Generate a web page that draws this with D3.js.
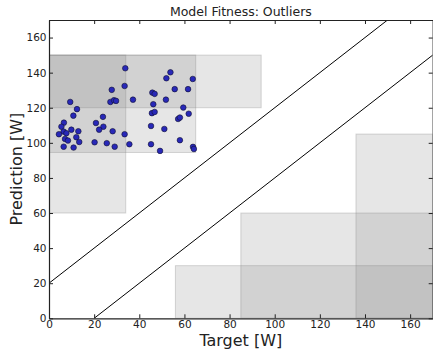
<!DOCTYPE html>
<html lang="en">
<head>
<meta charset="UTF-8" />
<script src="https://d3js.org/d3.v7.min.js"></script>
<style>
    body { margin: 0; background: #fff; }
    text { font-family: "DejaVu Sans", sans-serif; }
</style>
</head>
<body>
<svg id="chart" width="433" height="353"></svg>
<script>
    // outlier points (target, prediction)
    const targets = [33.8, 33.5, 27.8, 27.2, 28.8, 29.7, 9.4, 12.4, 10.8, 23.9, 6.6, 5.5, 20.8, 24.1, 22.2,
        9.9, 13.0, 6.5, 7.7, 4.4, 28.2, 33.5, 12.1, 7.1, 8.4, 13.4, 20.2, 25.6, 6.5, 10.9, 29.1,
        53.8, 52.0, 63.7, 55.7, 61.6, 37.2, 45.8, 46.8, 51.8, 46.2, 59.5, 45.6, 46.8, 61.9, 57.2, 58.0,
        45.2, 51.1, 35.6, 45.2, 58.0, 49.2, 63.8, 64.2];
    const predictions = [142.5, 132.4, 130.2, 123.3, 124.3, 123.9, 123.3, 119.2, 115.5, 114.8, 111.5, 109.2, 111.3, 109.2, 107.5,
        107.5, 106.6, 106.4, 105.5, 104.9, 106.6, 104.9, 103.2, 102.2, 101.3, 100.5, 100.3, 99.8, 97.8, 97.3, 97.8,
        140.2, 136.8, 136.4, 130.6, 130.6, 124.6, 128.6, 127.9, 124.6, 122.0, 120.1, 116.9, 117.6, 116.6, 113.6, 114.4,
        109.6, 107.9, 99.2, 99.2, 101.5, 95.4, 97.7, 96.5];

    // shaded outlier regions [x0, x1, y0, y1]
    const regionX0 = [0, 0, 0, 56, 85, 136];
    const regionX1 = [34, 65, 94, 170, 170, 170];
    const regionY0 = [60, 94.5, 120, 0, 0, 0];
    const regionY1 = [150, 150, 150, 30, 60, 105];

    // tolerance band lines: prediction = target +/- 20
    const bandOffsets = [20, -20];
    const ticks = [0, 20, 40, 60, 80, 100, 120, 140, 160];

    const svg = d3.select("#chart");
    const margin = { left: 49, right: 0.3, top: 20, bottom: 34.7 };
    const width = 433 - margin.left - margin.right;
    const height = 353 - margin.top - margin.bottom;

    const x = d3.scaleLinear().domain([0, 170]).range([0, width]);
    const y = d3.scaleLinear().domain([0, 170]).range([height, 0]);

    const g = svg.append("g").attr("transform", `translate(${margin.left},${margin.top})`);

    svg.append("defs").append("clipPath").attr("id", "clip")
        .append("rect").attr("width", width).attr("height", height);

    const plot = g.append("g").attr("clip-path", "url(#clip)");

    plot.selectAll("rect.region")
        .data(regionX0.map((d, i) => ({ x0: d, x1: regionX1[i], y0: regionY0[i], y1: regionY1[i] })))
        .join("rect")
        .attr("class", "region")
        .attr("x", d => x(d.x0))
        .attr("y", d => y(d.y1))
        .attr("width", d => x(d.x1) - x(d.x0))
        .attr("height", d => y(d.y0) - y(d.y1))
        .attr("fill", "#808080")
        .attr("fill-opacity", 0.2)
        .attr("stroke", "#808080")
        .attr("stroke-opacity", 0.3);

    plot.selectAll("line.band")
        .data(bandOffsets)
        .join("line")
        .attr("class", "band")
        .attr("x1", d => x(Math.max(0, -d)))
        .attr("y1", d => y(Math.max(0, d)))
        .attr("x2", d => x(170))
        .attr("y2", d => y(170 + d))
        .attr("stroke", "#000")
        .attr("stroke-width", 1);

    plot.selectAll("circle")
        .data(targets.map((d, i) => [d, predictions[i]]))
        .join("circle")
        .attr("cx", d => x(d[0]))
        .attr("cy", d => y(d[1]))
        .attr("r", 2.8)
        .attr("fill", "#2828b8")
        .attr("stroke", "#101030")
        .attr("stroke-width", 0.6);

    // axes with inward ticks on all sides
    const tickFmt = d3.format("d");
    const xAxis = g.append("g").attr("transform", `translate(0,${height})`)
        .call(d3.axisBottom(x).tickValues(ticks).tickSizeInner(-4).tickSizeOuter(0).tickPadding(2).tickFormat(tickFmt));
    const yAxis = g.append("g")
        .call(d3.axisLeft(y).tickValues(ticks).tickSizeInner(-4).tickSizeOuter(0).tickPadding(2.5).tickFormat(tickFmt));
    const xTop = g.append("g")
        .call(d3.axisTop(x).tickValues(ticks).tickSizeInner(-4).tickSizeOuter(0).tickFormat(""));
    const yRight = g.append("g").attr("transform", `translate(${width},0)`)
        .call(d3.axisRight(y).tickValues(ticks).tickSizeInner(-4).tickSizeOuter(0).tickFormat(""));

    [xAxis, yAxis, xTop, yRight].forEach(a => {
        a.select(".domain").attr("stroke", "#222").attr("stroke-width", 1.2);
        a.selectAll(".tick line").attr("stroke", "#222");
        a.selectAll("text").attr("font-size", 10.5).attr("fill", "#222")
            .attr("font-family", "DejaVu Sans, sans-serif");
    });

    svg.append("text")
        .attr("x", margin.left + width / 2)
        .attr("y", 15.5)
        .attr("text-anchor", "middle")
        .attr("font-size", 12.5)
        .attr("fill", "#222")
        .text("Model Fitness: Outliers");

    svg.append("text")
        .attr("x", margin.left + width / 2)
        .attr("y", 345.5)
        .attr("text-anchor", "middle")
        .attr("font-size", 16)
        .attr("fill", "#222")
        .text("Target [W]");

    svg.append("text")
        .attr("transform", `translate(22,${margin.top + height / 2}) rotate(-90)`)
        .attr("text-anchor", "middle")
        .attr("font-size", 16)
        .attr("fill", "#222")
        .text("Prediction [W]");
</script>
</body>
</html>
